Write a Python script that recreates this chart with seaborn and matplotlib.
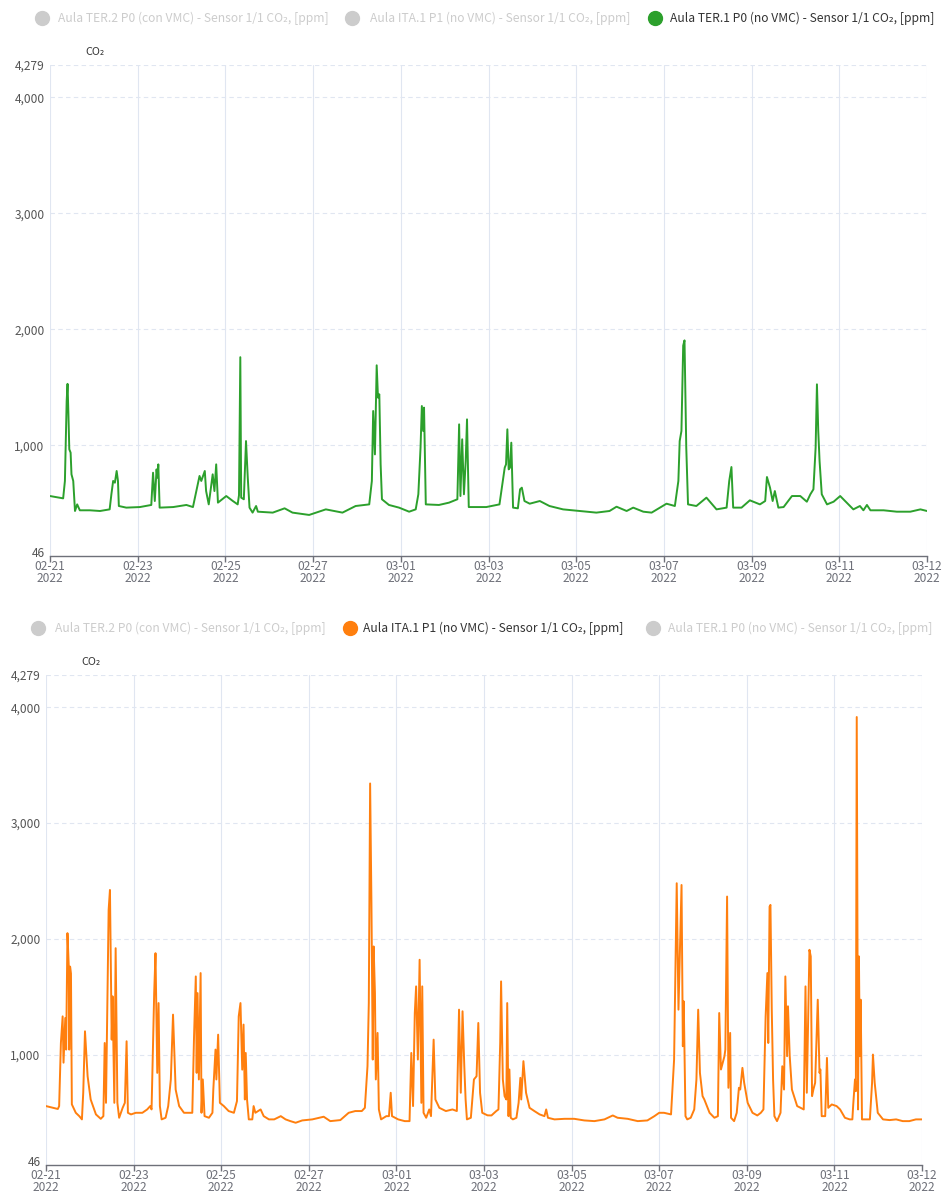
import numpy as np
import pandas as pd
import matplotlib
matplotlib.use("Agg")
import matplotlib.pyplot as plt
import matplotlib.transforms as mtransforms
from matplotlib.lines import Line2D
import seaborn as sns

# ---------------- data ----------------
# x is the position along the date axis in "day slots" (0 = 02-21, 20 = 03-12 label)
series_names = [
    "Aula TER.2 P0 (con VMC) - Sensor 1/1 CO₂, [ppm]",
    "Aula ITA.1 P1 (no VMC) - Sensor 1/1 CO₂, [ppm]",
    "Aula TER.1 P0 (no VMC) - Sensor 1/1 CO₂, [ppm]",
]
tick_labels = ["02-21\n2022", "02-23\n2022", "02-25\n2022", "02-27\n2022", "03-01\n2022",
               "03-03\n2022", "03-05\n2022", "03-07\n2022", "03-09\n2022", "03-11\n2022",
               "03-12\n2022"]
y_ticks = [46, 1000, 2000, 3000, 4000, 4279]

ter1_x = [0.00, 0.30, 0.34, 0.38, 0.40, 0.42, 0.44, 0.47, 0.49, 0.53, 0.57, 0.62, 0.68, 0.91,
          1.14, 1.36, 1.40, 1.44, 1.48, 1.52, 1.55, 1.57, 1.74, 2.05, 2.31, 2.35, 2.39, 2.43,
          2.45, 2.47, 2.50, 2.81, 3.11, 3.26, 3.37, 3.41, 3.45, 3.49, 3.53, 3.56, 3.62, 3.71,
          3.75, 3.79, 3.83, 4.02, 4.17, 4.28, 4.31, 4.34, 4.36, 4.42, 4.47, 4.51, 4.55, 4.62,
          4.70, 4.74, 5.08, 5.35, 5.53, 5.91, 6.29, 6.67, 6.97, 7.28, 7.34, 7.37, 7.41, 7.45,
          7.48, 7.51, 7.54, 7.57, 7.73, 7.96, 8.19, 8.34, 8.40, 8.45, 8.48, 8.51, 8.53, 8.57,
          8.87, 9.10, 9.29, 9.33, 9.36, 9.40, 9.44, 9.48, 9.51, 9.55, 9.95, 10.25, 10.37,
          10.40, 10.43, 10.46, 10.49, 10.52, 10.56, 10.67, 10.72, 10.76, 10.82, 10.94, 11.17,
          11.39, 11.70, 12.08, 12.46, 12.76, 12.92, 13.15, 13.30, 13.53, 13.72, 13.91, 14.06,
          14.25, 14.33, 14.36, 14.40, 14.44, 14.47, 14.51, 14.55, 14.74, 14.97, 15.20, 15.43,
          15.49, 15.54, 15.58, 15.77, 15.96, 16.19, 16.31, 16.35, 16.42, 16.48, 16.53, 16.61,
          16.73, 16.92, 17.11, 17.26, 17.34, 17.41, 17.46, 17.49, 17.52, 17.55, 17.60, 17.72,
          17.87, 18.02, 18.32, 18.47, 18.55, 18.63, 18.71, 19.01, 19.31, 19.62, 19.85, 20.00]
ter1_co2 = [563, 543, 693, 1382, 1530, 1267, 966, 937, 750, 693, 434, 491, 440, 440,
            434, 448, 578, 693, 678, 779, 693, 477, 463, 468, 486, 764, 520, 793,
            721, 836, 463, 468, 486, 468, 664, 736, 693, 736, 779, 606, 491, 750,
            606, 836, 506, 563, 520, 491, 570, 1760, 549, 535, 1037, 721, 463, 420,
            477, 428, 420, 457, 420, 400, 448, 420, 477, 491, 693, 1296, 922, 1690,
            1411, 1440, 836, 535, 486, 463, 428, 448, 578, 980, 1339, 1124, 1325, 491,
            486, 506, 535, 1181, 563, 1052, 578, 865, 1224, 468, 468, 491, 808,
            836, 1138, 793, 808, 1023, 463, 457, 621, 635, 520, 497, 520,
            477, 448, 434, 420, 434, 471, 434, 463, 428, 420, 463, 497,
            477, 693, 1037, 1124, 1860, 1905, 980, 491, 477, 549, 448, 463,
            693, 813, 463, 463, 526, 491, 520, 727, 635, 520, 606, 463,
            468, 563, 563, 514, 578, 621, 980, 1526, 1124, 865, 578, 491,
            514, 563, 448, 477, 440, 486, 440, 440, 428, 428, 448, 434]

ita1_x = [0.00, 0.27, 0.30, 0.34, 0.38, 0.40, 0.44, 0.46, 0.49, 0.52, 0.53, 0.55, 0.57, 0.59,
          0.68, 0.76, 0.82, 0.85, 0.89, 0.95, 1.02, 1.14, 1.25, 1.31, 1.34, 1.37, 1.43, 1.46,
          1.50, 1.52, 1.56, 1.59, 1.63, 1.67, 1.75, 1.80, 1.84, 1.87, 1.94, 2.05, 2.20, 2.31,
          2.38, 2.41, 2.47, 2.50, 2.54, 2.57, 2.60, 2.64, 2.73, 2.79, 2.85, 2.90, 2.96, 3.04,
          3.15, 3.34, 3.38, 3.42, 3.44, 3.46, 3.49, 3.53, 3.55, 3.58, 3.62, 3.72, 3.80, 3.82,
          3.87, 3.89, 3.93, 3.97, 4.06, 4.17, 4.29, 4.36, 4.40, 4.44, 4.48, 4.51, 4.54, 4.56,
          4.59, 4.63, 4.71, 4.74, 4.78, 4.90, 4.97, 5.09, 5.21, 5.36, 5.47, 5.58, 5.70, 5.85,
          6.08, 6.34, 6.49, 6.72, 6.91, 7.06, 7.21, 7.28, 7.34, 7.37, 7.40, 7.43, 7.46, 7.48,
          7.51, 7.53, 7.57, 7.60, 7.65, 7.77, 7.83, 7.87, 7.90, 8.04, 8.19, 8.30, 8.34, 8.38,
          8.42, 8.45, 8.49, 8.53, 8.57, 8.59, 8.62, 8.68, 8.75, 8.79, 8.85, 8.89, 8.98, 9.13,
          9.28, 9.38, 9.43, 9.47, 9.51, 9.55, 9.58, 9.61, 9.70, 9.77, 9.83, 9.87, 9.91, 9.96,
          10.08, 10.17, 10.28, 10.33, 10.37, 10.39, 10.43, 10.47, 10.51, 10.53, 10.56, 10.58,
          10.61, 10.66, 10.74, 10.79, 10.83, 10.85, 10.90, 10.96, 11.04, 11.15, 11.27, 11.38,
          11.42, 11.46, 11.61, 11.84, 12.06, 12.29, 12.52, 12.75, 12.94, 13.05, 13.28, 13.51,
          13.73, 13.89, 14.00, 14.11, 14.27, 14.34, 14.40, 14.44, 14.48, 14.51, 14.54, 14.56,
          14.60, 14.64, 14.72, 14.80, 14.85, 14.89, 14.93, 14.99, 15.03, 15.15, 15.26, 15.34,
          15.37, 15.41, 15.45, 15.49, 15.51, 15.55, 15.58, 15.62, 15.64, 15.71, 15.77, 15.82,
          15.85, 15.90, 15.94, 16.02, 16.13, 16.24, 16.32, 16.38, 16.43, 16.47, 16.49, 16.52,
          16.54, 16.57, 16.60, 16.63, 16.69, 16.77, 16.81, 16.85, 16.88, 16.92, 16.94, 16.98,
          17.03, 17.15, 17.30, 17.34, 17.37, 17.43, 17.46, 17.49, 17.52, 17.56, 17.62, 17.66,
          17.68, 17.71, 17.79, 17.83, 17.86, 17.94, 18.05, 18.13, 18.24, 18.35, 18.41, 18.43,
          18.47, 18.49, 18.51, 18.54, 18.56, 18.58, 18.60, 18.63, 18.73, 18.81, 18.86, 18.88,
          18.92, 18.99, 19.11, 19.26, 19.41, 19.56, 19.71, 19.86, 20.00]
ita1_co2 = [555, 530, 555, 1100, 1330, 930, 1316, 1043, 2049, 1760, 1043, 1760, 1700, 570,
            497, 468, 440, 670, 1201, 813, 612, 483, 445, 468, 1100, 583, 2250, 2422,
            1129, 1503, 583, 1919, 583, 454, 540, 583, 1115, 497, 483, 497, 497, 526,
            555, 526, 1531, 1876, 842, 1445, 555, 440, 454, 555, 785, 1345, 698, 555,
            497, 497, 1158, 1675, 842, 1531, 785, 1704, 497, 785, 468, 454, 497, 698,
            1043, 785, 1172, 583, 555, 512, 497, 598, 1330, 1445, 870, 1259, 612, 1014,
            612, 440, 440, 555, 497, 526, 468, 440, 440, 468, 440, 425, 411, 431,
            440, 463, 425, 434, 497, 512, 512, 540, 900, 1445, 3342, 2307, 957, 1934,
            1531, 785, 1187, 526, 440, 468, 468, 670, 468, 440, 425, 425, 1014, 555,
            1359, 1589, 957, 1819, 583, 1589, 497, 454, 526, 468, 1129, 612, 540, 512,
            526, 512, 1388, 670, 1374, 900, 612, 440, 454, 785, 813, 1273, 670, 497,
            475, 474, 512, 526, 1100, 1632, 785, 641, 612, 1445, 468, 871,
            454, 440, 454, 583, 799, 612, 943, 670, 540, 512, 483, 468,
            526, 454, 440, 445, 445, 431, 425, 440, 474, 454, 445, 425,
            431, 468, 497, 497, 483, 957, 2480, 1388, 2000, 2465, 1072, 1460,
            468, 440, 454, 526, 785, 1388, 842, 641, 612, 497, 454, 468,
            1359, 871, 928, 986, 1043, 2365, 713, 1187, 454, 425, 497, 713,
            698, 885, 756, 583, 497, 474, 497, 526, 1330, 1704, 1100, 2278,
            2293, 1388, 784, 468, 425, 497, 899, 698, 1675, 986, 1417, 986,
            698, 555, 526, 1589, 670, 1905, 1848, 641, 698, 756, 1474, 842,
            871, 468, 468, 971, 540, 569, 555, 526, 454, 440, 440, 569,
            785, 684, 3916, 526, 1848, 986, 1474, 440, 440, 440, 756, 1000,
            756, 497, 440, 434, 440, 425, 425, 440, 440]

# ---------------- styling ----------------
sns.set_theme(style="white")
plt.rcParams["font.family"] = ["Noto Sans CJK SC", "DejaVu Sans"]

W, H = 943, 1193
AXIS_GREY = "#6E7079"
GRID = "#E0E6F1"
GREEN = "#2ca02c"
ORANGE = "#ff7f0e"
INACTIVE = "#cccccc"

fig = plt.figure(figsize=(W / 100, H / 100), dpi=100)
fig.patch.set_facecolor("white")


def px_axes(x0, x1, y_top, y_bot):
    return fig.add_axes([x0 / W, 1 - y_bot / H, (x1 - x0) / W, (y_bot - y_top) / H])


ax1 = px_axes(50, 927, 65, 556)
ax2 = px_axes(46, 922, 675, 1165)

df_top = pd.DataFrame({"x": ter1_x, "co2": ter1_co2})
df_bot = pd.DataFrame({"x": ita1_x, "co2": ita1_co2})

sns.lineplot(data=df_top, x="x", y="co2", ax=ax1, color=GREEN, linewidth=1.4, zorder=3)
sns.lineplot(data=df_bot, x="x", y="co2", ax=ax2, color=ORANGE, linewidth=1.4, zorder=3)

tick_pos = np.arange(0, 2 * len(tick_labels), 2)


def style(ax):
    ax.set_xlim(tick_pos[0], tick_pos[-1])
    ax.set_ylim(y_ticks[0], y_ticks[-1])
    ax.set_xticks(tick_pos)
    ax.set_xticklabels(tick_labels)
    ax.set_yticks(y_ticks)
    ax.set_yticklabels([f"{v:,}" for v in y_ticks])
    for s in ["top", "right", "left"]:
        ax.spines[s].set_visible(False)
    ax.spines["bottom"].set_color(AXIS_GREY)
    ax.spines["bottom"].set_linewidth(1.0)
    ax.tick_params(axis="x", bottom=True, length=4, width=1, color=AXIS_GREY,
                   labelcolor=AXIS_GREY, labelsize=8.6, pad=-1)
    ax.tick_params(axis="y", left=False, length=0, labelcolor="#555555", labelsize=8.6, pad=4)
    for lbl in ax.get_xticklabels():
        lbl.set_linespacing(0.9)
    # lift the lowest y label a little so it clears the first date label
    lift = mtransforms.ScaledTranslation(0, 4 / 100, fig.dpi_scale_trans)
    ylbls = ax.get_yticklabels()
    ylbls[0].set_transform(ylbls[0].get_transform() + lift)
    for yv in y_ticks[1:]:
        ax.axhline(yv, color=GRID, lw=0.8, ls=(0, (4, 3)), zorder=1)
    for xv in tick_pos:
        ax.axvline(xv, color=GRID, lw=0.8, zorder=1)
    ax.set_xlabel("")
    ax.set_ylabel("")
    ax.set_facecolor("white")
    ax.grid(False)


style(ax1)
style(ax2)

# axis name labels
fig.text(95 / W, 1 - 52 / H, "CO₂", ha="center", va="center", fontsize=7.8, color="#333333")
fig.text(91 / W, 1 - 662 / H, "CO₂", ha="center", va="center", fontsize=7.8, color="#333333")


# legends (one per panel; only the plotted series is active)
def legend_row(y_px, circle_x, text_x, active_idx, active_color):
    for i, name in enumerate(series_names):
        on = i == active_idx
        col = active_color if on else INACTIVE
        fig.add_artist(Line2D([circle_x[i] / W], [1 - y_px / H], marker="o", markersize=10,
                              color=col, linestyle="", transform=fig.transFigure))
        fig.text(text_x[i] / W, 1 - y_px / H, name, ha="left", va="center", fontsize=8.7,
                 color="#333333" if on else INACTIVE)


legend_row(18, [42, 352, 655], [58, 370, 670], 2, GREEN)
legend_row(628, [38, 350, 653], [55, 363, 668], 1, ORANGE)

fig.savefig("out.png", dpi=100, facecolor="white")
